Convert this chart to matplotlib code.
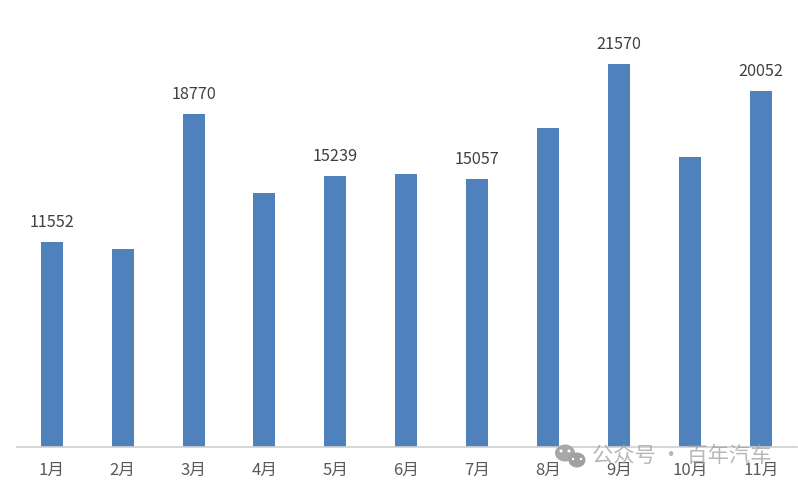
import matplotlib.pyplot as plt
from matplotlib.patches import Ellipse
from matplotlib.transforms import IdentityTransform
import numpy as np

plt.rcParams["font.family"] = ["Noto Sans CJK SC", "DejaVu Sans"]

months = ["1月", "2月", "3月", "4月", "5月", "6月", "7月", "8月", "9月", "10月", "11月"]
sales = [11552, 11150, 18770, 14300, 15239, 15350, 15057, 17950, 21570, 16300, 20052]
# only these bars carry a label in the picture
labelled = [11552, None, 18770, None, 15239, None, 15057, None, 21570, None, 20052]
watermark = "公众号 · 百年汽车"

W, H = 798, 488
fig = plt.figure(figsize=(W/100, H/100), dpi=100)
ax = fig.add_axes([17/W, 1-446.5/H, 780/W, 410/H])

x = np.arange(len(months))
ax.bar(x, sales, width=0.31, color="#4f81bd")
ax.set_xlim(-0.49, 10.51)
ax.set_ylim(0, 23120)

for i, v in enumerate(labelled):
    if v is not None:
        ax.annotate(str(v), (i, v), xytext=(0, 8), textcoords="offset points",
                    ha="center", va="bottom", fontsize=11.7, color="#404040")

for s in ["top", "left", "right"]:
    ax.spines[s].set_visible(False)
ax.spines["bottom"].set_color("#d0d0d0")
ax.spines["bottom"].set_linewidth(1.2)
ax.set_yticks([])
ax.set_xticks(x)
ax.set_xticklabels(months, fontsize=12, color="#595959")
ax.tick_params(axis="x", length=0, pad=11)

# wechat logo next to the watermark, pixel coords measured from top-left
px = IdentityTransform()
for cx, cy, w, h, c in [(565, 453, 20, 17, "#a8a8a8"), (577, 460, 17, 15, "#a0a0a0"),
                        (561, 451, 3, 3, "white"), (569, 451, 3, 3, "white"),
                        (573, 459, 2.5, 2.5, "white"), (581, 459, 2.5, 2.5, "white")]:
    fig.add_artist(Ellipse((cx, H-cy), w, h, transform=px, color=c, lw=0, zorder=5))

fig.text(592/W, 1-456/H, watermark, fontsize=15.3, color="#a0a0a0", alpha=0.75,
         ha="left", va="center", zorder=5)

fig.savefig("out.png", dpi=100)
